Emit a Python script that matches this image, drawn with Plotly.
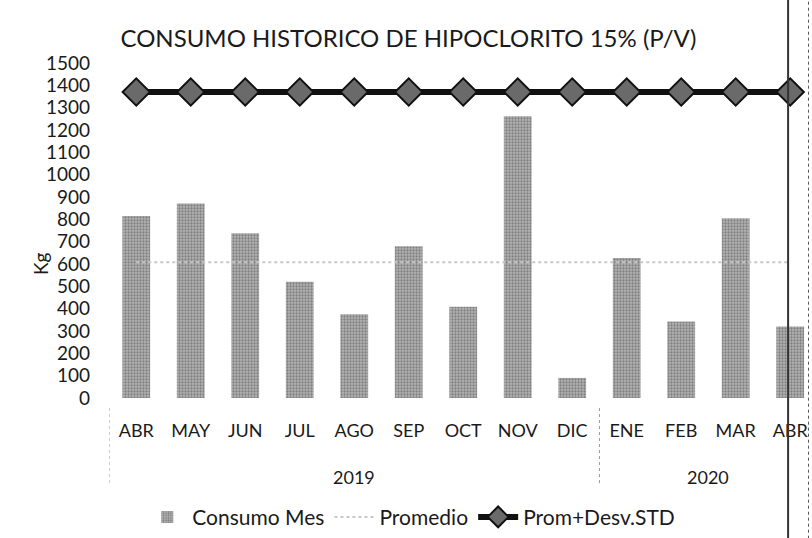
import plotly.graph_objects as go

years = ["2019"] * 9 + ["2020"] * 4
months = ["ABR", "MAY", "JUN", "JUL", "AGO", "SEP", "OCT", "NOV", "DIC",
          "ENE", "FEB", "MAR", "ABR"]
consumo = [815, 871, 738, 520, 375, 680, 409, 1262, 90, 627, 342, 805, 320]
promedio = [608] * 13
prom_std = [1370] * 13
y_ticks = list(range(0, 1501, 100))

FONT = "Lato, 'Noto Sans', sans-serif"
TXT = "#1a1a1a"
xpos = list(range(len(months)))

fig = go.Figure()
fig.add_trace(go.Bar(
    x=xpos, y=consumo, name="Consumo Mes", width=0.51,
    marker=dict(color="#9b9b9b", line=dict(width=0),
                pattern=dict(shape=".", fgcolor="#4a4a4a", bgcolor="#b4b4b4",
                             size=3, solidity=0.45)),
))
fig.add_trace(go.Scatter(
    x=xpos, y=promedio, name="Promedio", mode="lines",
    line=dict(color="#c8c8c8", width=2, dash="dot"),
))
fig.add_trace(go.Scatter(
    x=xpos, y=prom_std, name="Prom+Desv.STD", mode="lines+markers",
    line=dict(color="#111111", width=6),
    marker=dict(symbol="diamond", size=21, color="#6a6a6a",
                line=dict(color="#111111", width=2)),
))

# year group labels and dividers
groups = []
for i, yv in enumerate(years):
    if not groups or groups[-1][0] != yv:
        groups.append([yv, i, i])
    else:
        groups[-1][2] = i
for yv, a, b in groups:
    fig.add_annotation(x=(a + b) / 2, y=-0.237, xref="x", yref="paper",
                       text=yv, showarrow=False, xanchor="center", yanchor="middle",
                       font=dict(size=18, family=FONT, color=TXT))
    fig.add_shape(type="line", xref="x", yref="paper", x0=a - 0.5, x1=a - 0.5,
                  y0=-0.03, y1=-0.26, line=dict(color="#9a9a9a", width=1, dash="dot"))

# y-axis title
fig.add_annotation(x=-0.098, y=0.40, xref="paper", yref="paper", text="Kg",
                   textangle=-90, showarrow=False, xanchor="center",
                   yanchor="middle",
                   font=dict(size=19, family=FONT, color=TXT))

# scan border lines
fig.add_shape(type="line", xref="paper", yref="paper", x0=0.966, x1=0.966,
              y0=-0.42, y1=1.19, line=dict(color="#333333", width=2))
fig.add_shape(type="line", xref="paper", yref="paper", x0=0.995, x1=0.995,
              y0=-0.42, y1=1.19, line=dict(color="#555555", width=1, dash="dot"))

fig.update_layout(
    width=812, height=538,
    margin=dict(l=109, r=0, t=63, b=138),
    paper_bgcolor="white", plot_bgcolor="white",
    font=dict(family=FONT, size=19, color=TXT),
    title=dict(text="CONSUMO HISTORICO DE HIPOCLORITO 15% (P/V)",
               x=0.503, xanchor="center", y=0.929, yanchor="middle",
               font=dict(family=FONT, size=24, color=TXT)),
    showlegend=True,
    legend=dict(orientation="h", x=0.43, xanchor="center", y=-0.356,
                yanchor="middle", font=dict(size=21), itemwidth=40,
                tracegroupgap=0),
)
fig.update_xaxes(range=[-0.5, len(months) - 0.6], tickvals=xpos, ticktext=months,
                 showgrid=False, zeroline=False, showline=False, ticks="",
                 ticklabelstandoff=20, tickfont=dict(size=18))
fig.update_yaxes(range=[0, 1500], tickvals=y_ticks, showgrid=False,
                 zeroline=False, showline=False, ticks="",
                 ticklabelstandoff=18, tickfont=dict(size=19))

fig.write_html("out.html", config={"displayModeBar": False},
               post_script="document.body.style.margin='0';")
